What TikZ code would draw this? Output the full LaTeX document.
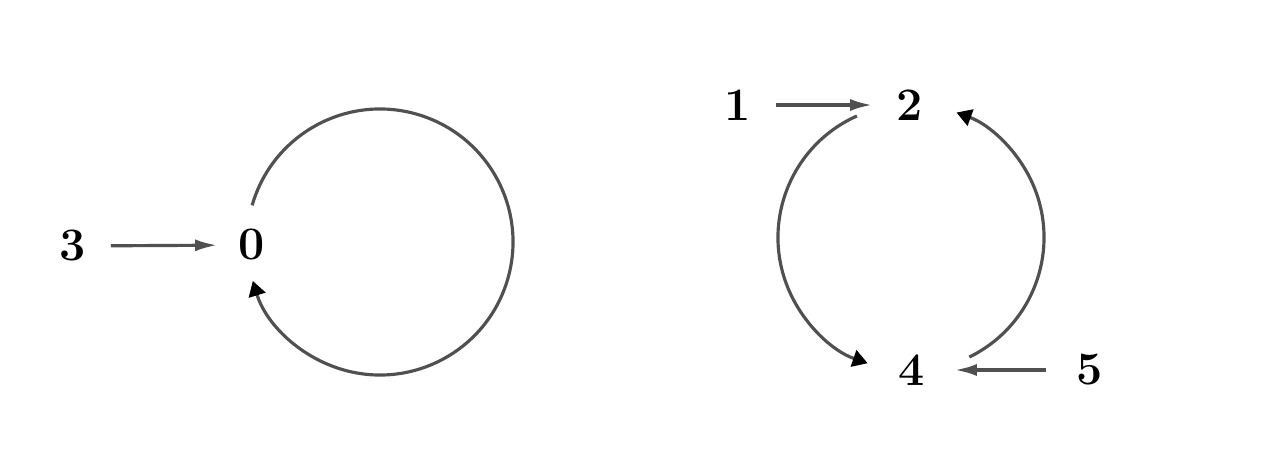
\documentclass[tikz,border=0pt]{standalone}
\usepackage{tikz}
\usetikzlibrary{positioning,arrows.meta,calc}
\definecolor{edgegray}{HTML}{505050}

\begin{document}
\begin{tikzpicture}[every node/.style={circle, minimum size=1.5cm, inner sep=0pt, font=\fontsize{26.5}{30}\selectfont\bfseries},
    link/.style={-{Latex[length=0.44cm,width=0.24cm]}, line width=1.8pt, draw=edgegray},
    cyc/.style={-{Triangle[length=0.3cm,width=0.34cm,color=black]}, line width=1.8pt, draw=edgegray}]
        \useasboundingbox (0,0) rectangle (25.42,9.2);
        \node (three) at (1.46,4.28) {3};
        \node (zero) at (5.04,4.30) {0};
        \node (one) at (14.76,7.10) {1};
        \node[on grid, right=3.44cm of one] (two) {2};
        \node (four) at (18.24,1.80) {4};
        \node[on grid, right=3.56cm of four] (five) {5};
        % centres of the round paths
        \coordinate (loopc) at ($(zero)+(2.56,0.06)$);
        \coordinate (ring) at ($(two)!0.5!(four)$);
        \draw[link, shorten >=-0.06cm] (three) -- (zero);
        \draw[link] (one) -- (two);
        \draw[link, shorten <=0.12cm, shorten >=0.1cm] (five) -- (four);
        \draw[cyc] ([shift={(164:2.66)}]loopc) arc[start angle=164, end angle=-163, radius=2.66];
        \draw[cyc] ([shift={(114:2.66)}]ring) arc[start angle=114, end angle=251, radius=2.66];
        \draw[cyc] ([shift={(-64:2.66)}]ring) arc[start angle=-64, end angle=70, radius=2.66];
    \end{tikzpicture}
\end{document}
